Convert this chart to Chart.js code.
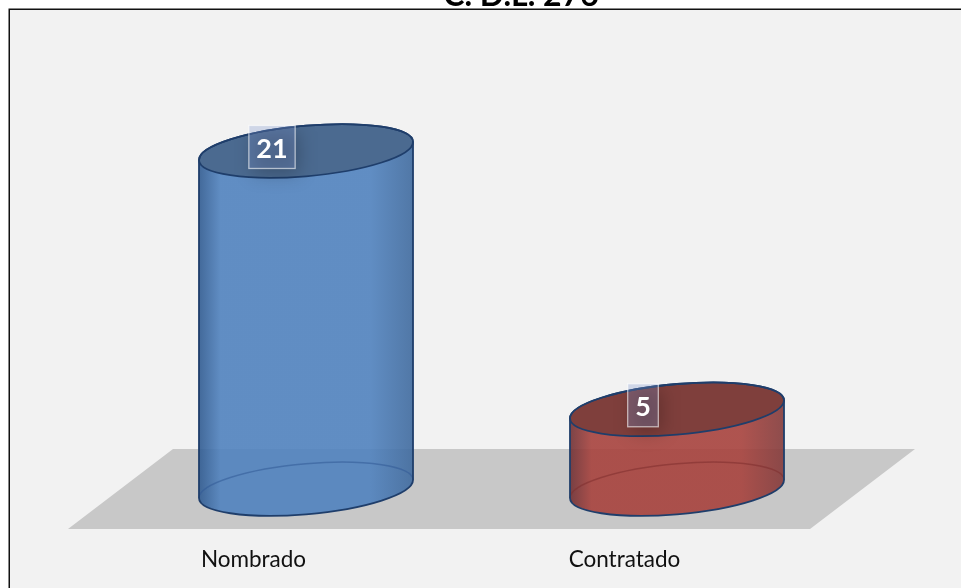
<!DOCTYPE html>
<html><head><meta charset="utf-8">
<style>html,body{margin:0;padding:0;background:#fff;overflow:hidden;width:961px;height:588px}
#w{position:absolute;left:0;top:-24px;width:974px;height:612px}</style>
<script src="https://cdn.jsdelivr.net/npm/chart.js@4"></script></head>
<body><div id="w"><canvas id="c" width="974" height="612"></canvas></div>
<script>
const titleText = "C. D.L. 276";
const categories = ["Nombrado", "Contratado"];
const values = [21, 5];
const bodyColors = ["#5082be", "#a7423d"];
const edgeColors = ["#2f5a90", "#6f3034"];
const edgeColorsR = ["#3f6a9e", "#833a3a"];
const topColors = ["#4b6a90", "#7f3f3c"];
const baseLines = ["rgba(50,90,150,.55)", "rgba(125,45,45,.55)"];
const outline = "#1f3e6b";
const depthX = 52.5, depthY = 40, skew = -0.084, ryE = 25.3;

function ell(ctx, cx, cy, rx) {
  ctx.save();
  ctx.transform(1, skew, 0, 1, cx, cy);
  ctx.beginPath();
  ctx.ellipse(0, 0, rx, ryE, 0, 0, Math.PI * 2);
  ctx.restore();
}
const cyl = {
  id: "cyl",
  beforeDraw(ch) {
    const c = ch.ctx;
    c.save();
    c.fillStyle = "#f2f2f2"; c.fillRect(9, 33, 965, 579);
    c.strokeStyle = "#111"; c.lineWidth = 1.5;
    c.beginPath(); c.moveTo(9.25, 612); c.lineTo(9.25, 33.25); c.lineTo(974, 33.25); c.stroke();
    c.restore();
  },
  beforeDatasetsDraw(ch) {
    const c = ch.ctx, a = ch.chartArea, b = a.bottom;
    c.save();
    c.fillStyle = "#c8c8c8";
    c.beginPath();
    c.moveTo(a.left, b); c.lineTo(a.right, b);
    c.lineTo(a.right + depthX * 2, b - depthY * 2);
    c.lineTo(a.left + depthX * 2, b - depthY * 2);
    c.closePath(); c.fill();
    c.restore();
  },
  afterDatasetsDraw(ch) {
    const c = ch.ctx;
    ch.getDatasetMeta(0).data.forEach((el, i) => {
      const rx = el.width / 2, cx = el.x + depthX, ty = el.y - depthY + 1, by = el.base - depthY;
      const L = cx - rx, R = cx + rx, k = skew * rx;
      c.save();
      const body = () => {
        c.beginPath();
        c.moveTo(L, ty - k);
        c.lineTo(L, by - k);
        c.save(); c.transform(1, skew, 0, 1, cx, by);
        c.ellipse(0, 0, rx, ryE, 0, Math.PI, 0, true);
        c.restore();
        c.lineTo(R, ty + k);
        c.save(); c.transform(1, skew, 0, 1, cx, ty);
        c.ellipse(0, 0, rx, ryE, 0, 0, Math.PI, true);
        c.restore();
        c.closePath();
      };
      const g = c.createLinearGradient(L, 0, R, 0);
      g.addColorStop(0, edgeColors[i]);
      g.addColorStop(0.1, bodyColors[i]);
      g.addColorStop(0.8, bodyColors[i]);
      g.addColorStop(1, edgeColorsR[i]);
      c.globalAlpha = 0.9;
      body(); c.fillStyle = g; c.fill();
      c.globalAlpha = 1;
      c.save(); c.transform(1, skew, 0, 1, cx, by);
      c.beginPath(); c.ellipse(0, 0, rx, ryE, 0, Math.PI, 0);
      c.restore();
      c.strokeStyle = baseLines[i]; c.lineWidth = 1.5; c.stroke();
      ell(c, cx, ty, rx); c.fillStyle = topColors[i]; c.fill();
      body(); c.strokeStyle = outline; c.lineWidth = 1.8; c.stroke();
      ell(c, cx, ty, rx); c.stroke();
      c.restore();

      const txt = String(values[i]);
      c.save();
      c.font = "bold 27px Lato";
      const w = c.measureText(txt).width + 15, h = 43;
      const lx = el.x + 18.5, ly = el.y - 43;
      c.save();
      body(); c.clip();
      c.filter = "blur(9px)";
      c.fillStyle = "rgba(0,0,0,.22)";
      c.fillRect(lx - w / 2 + 4, ly - h / 2 + 6, w, h);
      c.restore();
      c.fillStyle = "rgba(125,150,205,.3)";
      c.fillRect(lx - w / 2, ly - h / 2, w, h);
      c.strokeStyle = "rgba(255,255,255,.6)"; c.lineWidth = 1.3;
      c.strokeRect(lx - w / 2, ly - h / 2, w, h);
      c.fillStyle = "#fff"; c.textAlign = "center"; c.textBaseline = "middle";
      c.fillText(txt, lx, ly + 2);
      c.restore();
    });
  }
};
new Chart(document.getElementById("c"), {
  type: "bar",
  plugins: [cyl],
  data: { labels: categories, datasets: [{ data: values, backgroundColor: "rgba(0,0,0,0)", barThickness: 214 }] },
  options: {
    responsive: false, animation: false,
    layout: { padding: { left: 68, right: 0, top: 0, bottom: 0 } },
    plugins: {
      legend: { display: false }, tooltip: { enabled: false },
      title: { display: true, text: titleText, color: "#000", align: "center",
        font: { family: "Lato", weight: "bold", size: 32, lineHeight: 1.2 },
        padding: { top: 0, bottom: 111 } }
    },
    scales: {
      x: { grid: { display: false }, border: { display: false },
        ticks: { color: "#111", font: { family: "Lato", size: 22.5 }, padding: 9, maxRotation: 0 },
        afterFit(s) { s.height = 59; } },
      y: { position: "right", min: 0, max: 25, grid: { display: false }, border: { display: false },
        ticks: { display: false }, afterFit(s) { s.width = 164; } }
    }
  }
});
</script></body></html>
